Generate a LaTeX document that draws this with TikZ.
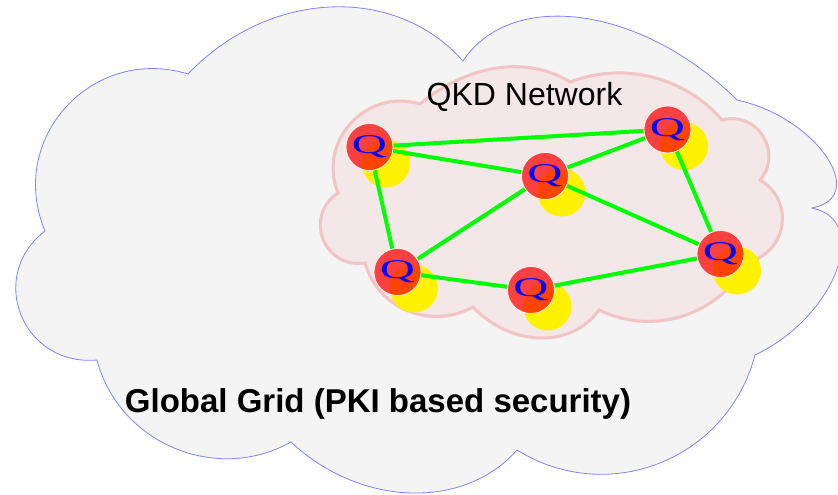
\documentclass[tikz,border=0pt]{standalone}
\usepackage{fontspec}
\setmainfont{Liberation Sans}
\newfontfamily\qfont[FakeStretch=1.8]{Liberation Serif}
\usetikzlibrary{calc}

\definecolor{gridfill}{RGB}{244,244,244}
\definecolor{gridline}{RGB}{130,130,250}
\definecolor{qkdfill}{RGB}{244,231,231}
\definecolor{qkdline}{RGB}{242,196,196}
\definecolor{linkgreen}{RGB}{0,255,0}

\pgfdeclarelayer{back}
\pgfdeclarelayer{links}
\pgfsetlayers{back,links,main}

% one cloud lobe: from #1 to #2 through the point #3, #4 widens (+) or narrows (-) the arc
\newcommand{\lobe}[4]{ .. controls ($ {0.3333+(#4)}*(#1) + 1.3333*(#3) + {-0.6667-(#4)}*(#2) $) and ($ {0.3333+(#4)}*(#2) + 1.3333*(#3) + {-0.6667-(#4)}*(#1) $) .. (#2)}

\tikzset{
  qnode/.style={circle, minimum size=47pt, inner sep=0pt, fill=red, fill opacity=0.72,
    text opacity=1, draw=white, draw opacity=0.85, line width=0.8pt, text=blue,
    font=\qfont\fontsize{27}{27}\selectfont},
  halo/.style={fill=yellow},
  link/.style={draw=linkgreen, line width=4pt},
  gridcloud/.style={fill=gridfill, draw=gridline, line width=0.8pt},
  qkdcloud/.style={fill=qkdfill, draw=qkdline, line width=3pt}
}

\begin{document}
\begin{tikzpicture}[x=1pt, y=-1pt]
\useasboundingbox (0,0) rectangle (838,495);

% outer cloud: cusps and lobe tops
\coordinate (c1) at (188,74);
\coordinate (c2) at (463,61);
\coordinate (c3) at (737,100);
\coordinate (c4) at (812,208);
\coordinate (c5) at (755,355);
\coordinate (c6) at (517,450);
\coordinate (c7) at (291,442);
\coordinate (c8) at (97,360);
\coordinate (c9) at (45,231);
\coordinate (t12) at (330,7);
\coordinate (t23) at (583,18);
\coordinate (t34) at (826,156);
\coordinate (t45) at (836,272);
\coordinate (t56) at (660,463);
\coordinate (t67) at (410,493);
\coordinate (t78) at (174,448);
\coordinate (t89) at (21,315);
\coordinate (t91) at (66,107);

% inner cloud: cusps and lobe tops
\coordinate (p1) at (420,104);
\coordinate (p2) at (570,82);
\coordinate (p3) at (722,120);
\coordinate (p4) at (760,180);
\coordinate (p5) at (748,262);
\coordinate (p6) at (599,310);
\coordinate (p7) at (473,307);
\coordinate (p8) at (365,263);
\coordinate (p9) at (338,193);
\coordinate (s12) at (497,68);
\coordinate (s23) at (652,77);
\coordinate (s34) at (763,136);
\coordinate (s45) at (782,225);
\coordinate (s56) at (683,316);
\coordinate (s67) at (540,338);
\coordinate (s78) at (408,311);
\coordinate (s89) at (323,239);
\coordinate (s91) at (351,123);

\begin{pgfonlayer}{back}
\path[gridcloud] (c1) \lobe{c1}{c2}{t12}{-0.27} \lobe{c2}{c3}{t23}{-0.26}
  \lobe{c3}{c4}{t34}{-0.13} \lobe{c4}{c5}{t45}{-0.17} \lobe{c5}{c6}{t56}{-0.25}
  \lobe{c6}{c7}{t67}{-0.27} \lobe{c7}{c8}{t78}{-0.25} \lobe{c8}{c9}{t89}{-0.15}
  \lobe{c9}{c1}{t91}{-0.2} -- cycle;
\path[qkdcloud] (p1) \lobe{p1}{p2}{s12}{-0.3} \lobe{p2}{p3}{s23}{-0.3}
  \lobe{p3}{p4}{s34}{-0.15} \lobe{p4}{p5}{s45}{-0.18} \lobe{p5}{p6}{s56}{-0.28}
  \lobe{p6}{p7}{s67}{-0.26} \lobe{p7}{p8}{s78}{-0.26} \lobe{p8}{p9}{s89}{-0.12}
  \lobe{p9}{p1}{s91}{-0.2} -- cycle;
\end{pgfonlayer}

% QKD nodes
\node[qnode] (n1) at (369.5,147) {Q};
\node[qnode] (n2) at (545,176) {Q};
\node[qnode] (n3) at (667.5,129.5) {Q};
\node[qnode] (n4) at (397.5,272) {Q};
\node[qnode] (n5) at (531,290) {Q};
\node[qnode] (n6) at (720.5,254) {Q};

\begin{pgfonlayer}{back}
\foreach \n in {n1,n2,n3,n4,n5,n6}
  \fill[halo] ([shift={(16.5,16.5)}]\n.center) circle[radius=24pt];
\end{pgfonlayer}

\begin{pgfonlayer}{links}
\draw[link] (n1) -- (n3);
\draw[link] (n1) -- (n2);
\draw[link] (n1) -- (n4);
\draw[link] (n2) -- (n3);
\draw[link] (n2) -- (n4);
\draw[link] (n2) -- (n6);
\draw[link] (n3) -- (n6);
\draw[link] (n4) -- (n5);
\draw[link] (n5) -- (n6);
\end{pgfonlayer}

\node[font=\fontsize{32}{38}\selectfont, anchor=base] (qkdlabel) at (524.5,106) {QKD Network};
\node[font=\fontsize{33}{40}\selectfont\bfseries, anchor=base] (gridlabel) at (378,412) {Global Grid (PKI based security)};
\end{tikzpicture}
\end{document}
